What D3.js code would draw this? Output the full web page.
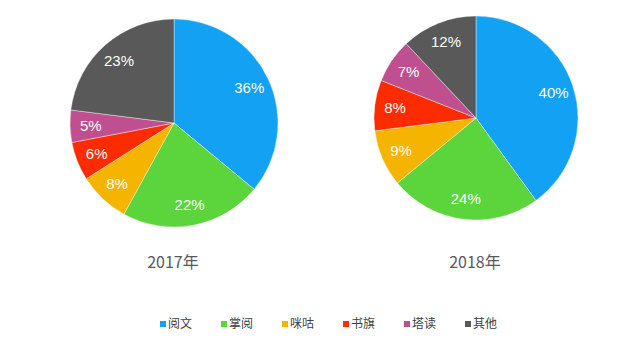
<!DOCTYPE html>
<html>
<head>
<meta charset="utf-8">
<script src="https://cdn.jsdelivr.net/npm/d3@7"></script>
<style>
  body { margin: 0; background: #fff; }
  svg { display: block; }
</style>
</head>
<body>
<svg width="640" height="352"></svg>
<script>
var categories = ["阅文", "掌阅", "咪咕", "书旗", "塔读", "其他"];
var years = ["2017年", "2018年"];
var values2017 = [36, 22, 8, 6, 5, 23];
var values2018 = [40, 24, 9, 8, 7, 12];
var colors = ["#12a1f3", "#5cd43c", "#f5b400", "#fc2c00", "#bf4f8e", "#595959"];

var svg = d3.select("svg");

var color = d3.scaleOrdinal().domain(categories).range(colors);

var pies = [
  { year: years[0], values: values2017, cx: 174, cy: 123, r: 104 },
  { year: years[1], values: values2018, cx: 476, cy: 118, r: 102 }
];

var pie = d3.pie().sort(null).value(function(d) { return d.value; });

pies.forEach(function(p) {
  var data = categories.map(function(c, i) { return { name: c, value: p.values[i] }; });
  var arc = d3.arc().innerRadius(0).outerRadius(p.r);
  var labelArc = d3.arc().innerRadius(p.r * 0.8).outerRadius(p.r * 0.8);

  var g = svg.append("g").attr("transform", "translate(" + p.cx + "," + p.cy + ")");

  g.selectAll("path")
    .data(pie(data))
    .enter().append("path")
    .attr("d", arc)
    .attr("fill", function(d) { return color(d.data.name); })
    .attr("stroke", "#fff")
    .attr("stroke-width", 0.4);

  g.selectAll("text")
    .data(pie(data))
    .enter().append("text")
    .attr("transform", function(d) { return "translate(" + labelArc.centroid(d) + ")"; })
    .attr("text-anchor", "middle")
    .attr("dy", "0.35em")
    .attr("fill", "#fff")
    .style("font-family", "'Liberation Sans', Arial, sans-serif")
    .style("font-size", "15px")
    .text(function(d) { return d.data.value + "%"; });

  svg.append("text")
    .attr("x", p.cx - 1)
    .attr("y", 262)
    .attr("text-anchor", "middle")
    .attr("dy", "0.35em")
    .attr("fill", "#595959")
    .style("font-family", "'Noto Sans CJK SC', 'Noto Sans', sans-serif")
    .style("font-size", "16px")
    .text(p.year);
});

// legend
var legendX = d3.scalePoint().domain(categories).range([160, 465]);

var legend = svg.append("g")
  .selectAll("g")
  .data(categories)
  .enter().append("g")
  .attr("transform", function(d) { return "translate(" + legendX(d) + ",324)"; });

legend.append("rect")
  .attr("x", 0)
  .attr("y", -3)
  .attr("width", 6)
  .attr("height", 6)
  .attr("fill", function(d) { return color(d); });

legend.append("text")
  .attr("x", 8)
  .attr("dy", "0.35em")
  .attr("fill", "#404040")
  .style("font-family", "'Noto Sans CJK SC', sans-serif")
  .style("font-size", "12px")
  .text(function(d) { return d; });
</script>
</body>
</html>
